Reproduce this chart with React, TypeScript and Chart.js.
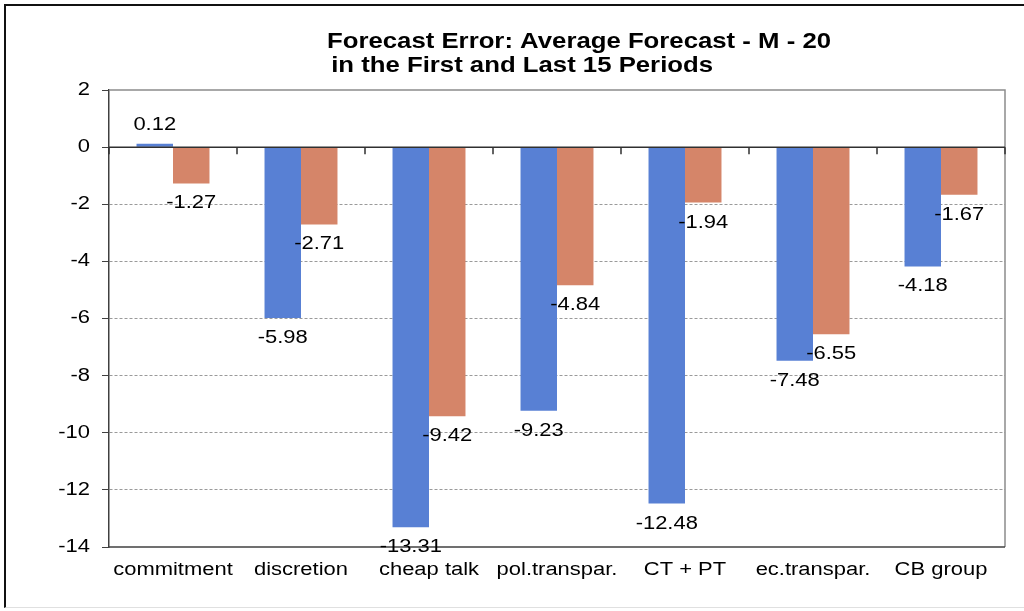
import React, { useEffect, useRef } from "react";
import { Chart, registerables } from "chart.js";

Chart.register(...registerables);

const categories = ["commitment", "discretion", "cheap talk", "pol.transpar.", "CT + PT", "ec.transpar.", "CB group"];
const firstPeriods = [0.12, -5.98, -13.31, -9.23, -12.48, -7.48, -4.18];
const lastPeriods = [-1.27, -2.71, -9.42, -4.84, -1.94, -6.55, -1.67];
const titleLines = ["Forecast Error: Average Forecast - M - 20", " in the First and Last 15 Periods"];
const yMin = -14;
const yMax = 2;
const yStep = 2;

const FONT = '"Liberation Sans", Arial, sans-serif';
const STRETCH = 1.22;
const TITLE_STRETCH = 1.17;

function drawText(ctx: any, text: string, x: number, y: number, align: string, sx: number) {
  ctx.save();
  ctx.translate(x, y);
  ctx.scale(sx, 1);
  ctx.textAlign = align;
  ctx.fillText(text, 0, 0);
  ctx.restore();
}

const decorPlugin = {
  id: "decor",
  afterDatasetsDraw(chart: any) {
    const ctx = chart.ctx;
    const area = chart.chartArea;
    const y = chart.scales.y;
    const x = chart.scales.x;
    ctx.save();
    // plot border top/right (gray)
    ctx.strokeStyle = "#8c8c8c";
    ctx.lineWidth = 1.5;
    ctx.beginPath();
    ctx.moveTo(area.left, area.top);
    ctx.lineTo(area.right, area.top);
    ctx.lineTo(area.right, area.bottom);
    ctx.stroke();
    // bottom line dark
    ctx.strokeStyle = "#404040";
    ctx.beginPath();
    ctx.moveTo(area.left, area.bottom);
    ctx.lineTo(area.right, area.bottom);
    ctx.stroke();
    // zero line + category boundary ticks
    const y0 = y.getPixelForValue(0);
    ctx.strokeStyle = "#303030";
    ctx.lineWidth = 1.5;
    ctx.beginPath();
    ctx.moveTo(area.left, y0);
    ctx.lineTo(area.right, y0);
    const n = categories.length;
    for (let i = 0; i <= n; i++) {
      const px = i === 0 ? area.left : i === n ? area.right : (x.getPixelForValue(i - 1) + x.getPixelForValue(i)) / 2;
      ctx.moveTo(px, y0);
      ctx.lineTo(px, y0 + 7);
    }
    ctx.stroke();

    ctx.fillStyle = "#000";
    ctx.font = `18px ${FONT}`;
    ctx.textBaseline = "middle";

    // y tick labels
    y.ticks.forEach((t: any, i: number) => {
      drawText(ctx, String(t.value), y.right - 7 - 12, y.getPixelForTick(i), "right", STRETCH);
    });
    // x tick labels
    categories.forEach((c, i) => {
      drawText(ctx, c, x.getPixelForValue(i), area.bottom + 23, "center", STRETCH);
    });

    // data labels
    chart.data.datasets.forEach((ds: any, di: number) => {
      const meta = chart.getDatasetMeta(di);
      meta.data.forEach((el: any, i: number) => {
        const v = ds.data[i];
        const ty = v >= 0 ? el.y - 19 : el.y + 20;
        drawText(ctx, v.toFixed(2), el.x, ty, "center", STRETCH);
      });
    });

    // title
    ctx.font = `bold 22px ${FONT}`;
    ctx.textBaseline = "alphabetic";
    drawText(ctx, titleLines[0], 327, 48, "left", TITLE_STRETCH);
    drawText(ctx, titleLines[1], 324, 72, "left", TITLE_STRETCH);
    ctx.restore();
  },
};

export default function App() {
  const ref = useRef<HTMLCanvasElement>(null);
  useEffect(() => {
    document.body.style.margin = "0";
    const chart = new Chart(ref.current as HTMLCanvasElement, {
      type: "bar",
      data: {
        labels: categories,
        datasets: [
          {
            label: "First 15 Periods",
            data: firstPeriods,
            backgroundColor: "#5880d4",
            categoryPercentage: 0.57,
            barPercentage: 1.0,
          },
          {
            label: "Last 15 Periods",
            data: lastPeriods,
            backgroundColor: "#d58569",
            categoryPercentage: 0.57,
            barPercentage: 1.0,
          },
        ],
      },
      options: {
        responsive: false,
        animation: false,
        devicePixelRatio: 1,
        layout: { padding: { top: 90, right: 19, left: 0, bottom: 0 } },
        plugins: {
          legend: { display: false },
          tooltip: { enabled: false },
          title: { display: false },
        },
        scales: {
          x: {
            grid: { display: false, drawTicks: false },
            border: { display: false },
            ticks: { color: "rgba(0,0,0,0)", font: { size: 18, family: FONT }, padding: 14, maxRotation: 0, autoSkip: false },
            afterFit(scale: any) {
              scale.height = 64;
            },
          },
          y: {
            min: yMin,
            max: yMax,
            ticks: {
              stepSize: yStep,
              color: "rgba(0,0,0,0)",
              font: { size: 18, family: FONT },
              padding: 14,
            },
            grid: {
              color: (c: any) =>
                c.tick && c.tick.value < 0 && c.tick.value > yMin ? "#9a9a9a" : "rgba(0,0,0,0)",
              tickColor: "#404040",
              tickLength: 7,
              tickBorderDash: [1, 0],
              lineWidth: 1,
            },
            border: { display: true, color: "#404040", width: 1.5, dash: [3, 2] },
            afterFit(scale: any) {
              scale.width = 109;
            },
          },
        },
      },
      plugins: [decorPlugin],
    });
    return () => chart.destroy();
  }, []);
  return (
    <div style={{ position: "fixed", left: 0, top: 0, width: 1024, height: 611, background: "#fff" }}>
      <div
        style={{
          position: "absolute",
          left: 4,
          top: 4,
          width: 1020,
          height: 604,
          borderTop: "2px solid #111",
          borderLeft: "2px solid #111",
          borderBottom: "1px solid #e0e0e0",
          boxSizing: "border-box",
        }}
      />
      <canvas ref={ref} width={1024} height={611} style={{ position: "absolute", left: 0, top: 0 }} />
    </div>
  );
}
